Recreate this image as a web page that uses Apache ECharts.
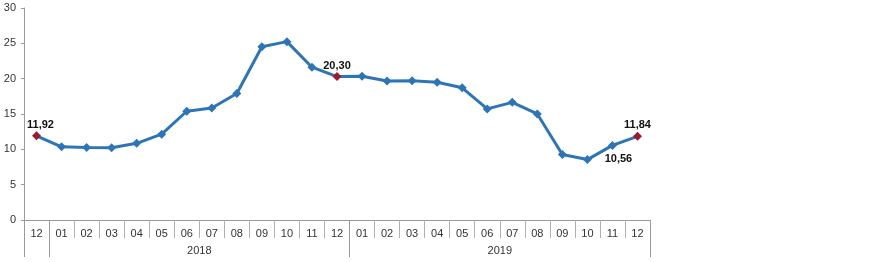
<!DOCTYPE html>
<html><head><meta charset="utf-8">
<script src="https://cdn.jsdelivr.net/npm/echarts@6/dist/echarts.min.js"></script>
<style>html,body{margin:0;padding:0;background:#fff}#c{width:880px;height:262px}</style>
</head><body><div id="c"></div>
<script>
const months = ['12','01','02','03','04','05','06','07','08','09','10','11','12','01','02','03','04','05','06','07','08','09','10','11','12'];
const values = [11.92,10.35,10.26,10.23,10.85,12.15,15.39,15.85,17.90,24.52,25.24,21.62,20.30,20.35,19.67,19.71,19.50,18.71,15.72,16.65,15.01,9.26,8.55,10.56,11.84];
const years = ['2018','2019'];
const yearCenters = [7, 19];
const yearBounds = [0, 1, 13, 25];
const labeled = {0:'top', 12:'top', 23:'bottom', 24:'top'};
const highlighted = [0, 12, 24];
const yTicks = [0,5,10,15,20,25,30];

const chart = echarts.init(document.getElementById('c'));
const data = values.map((v,i)=>{
  const d = {value:v};
  if (highlighted.includes(i)) d.itemStyle = {color:'#9b1c31'};
  if (labeled[i]) d.label = {show:true, position:labeled[i], offset: labeled[i]==='bottom'?[6,-1]:(i===0?[4,4]:[0,4])};
  return d;
});
chart.setOption({
  animation:false,
  grid:[{left:24,right:230,top:8,bottom:42}],
  xAxis:[{
    type:'category', data:months, boundaryGap:true,
    axisLine:{lineStyle:{color:'#9a9a9a',width:1}},
    axisTick:{show:true, interval:0, length:18, lineStyle:{color:'#b0b0b0'}},
    axisLabel:{interval:0, color:'#333', fontFamily:'Liberation Sans, Arial', fontSize:11, margin:8}
  },{
    type:'value', min:0, max:25, position:'bottom',
    axisLine:{show:false}, splitLine:{show:false},
    axisTick:{show:true, customValues:yearBounds, length:37, lineStyle:{color:'#9a9a9a'}},
    axisLabel:{customValues:yearCenters, formatter:(v)=>years[yearCenters.indexOf(v)]||'', color:'#333', fontFamily:'Liberation Sans, Arial', fontSize:11, margin:25}
  }],
  yAxis:{type:'value', min:0, max:30, interval:5,
    axisLine:{show:true, lineStyle:{color:'#9a9a9a'}},
    axisTick:{show:true, length:3, lineStyle:{color:'#9a9a9a'}},
    splitLine:{show:false},
    axisLabel:{color:'#333', fontFamily:'Liberation Sans, Arial', fontSize:11, margin:8,
      formatter:(v)=>yTicks.includes(v)?String(v):''}
  },
  series:[{
    type:'line', data:data, xAxisIndex:0,
    lineStyle:{color:'#2e75b6', width:3},
    itemStyle:{color:'#2e75b6'},
    symbol:'diamond', symbolSize:9, showAllSymbol:true,
    label:{show:false, color:'#111', fontWeight:'bold', fontFamily:'Liberation Sans, Arial', fontSize:11,
      formatter:(p)=>p.value.toFixed(2).replace('.',',')}
  }]
});
</script></body></html>
